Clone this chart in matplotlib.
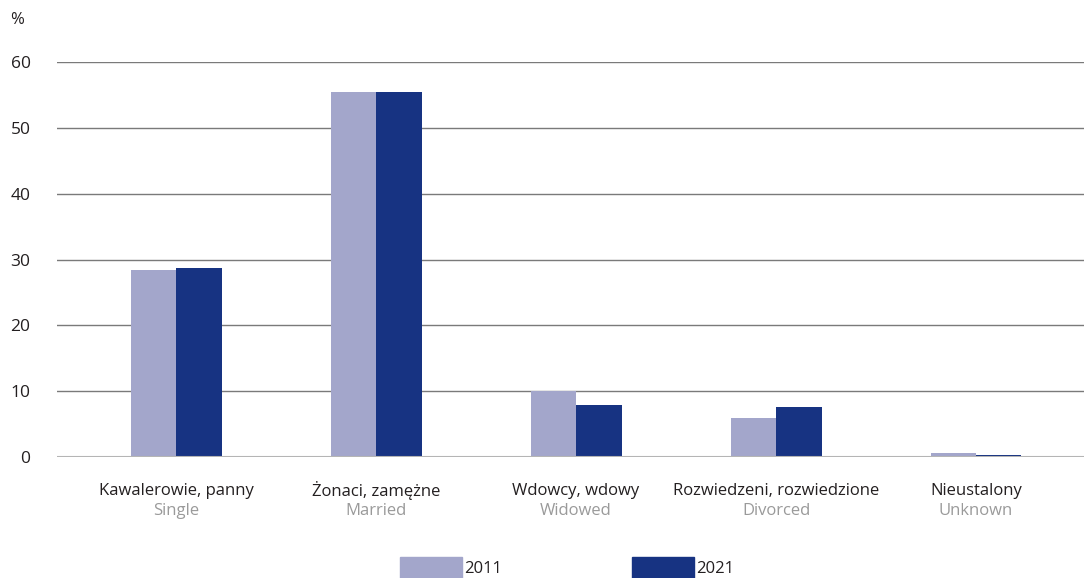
import numpy as np
import matplotlib.pyplot as plt
from matplotlib.patches import Rectangle

plt.rcParams['font.family'] = ['Open Sans', 'DejaVu Sans']

labels_pl = ['Kawalerowie, panny', 'Żonaci, zamężne', 'Wdowcy, wdowy',
             'Rozwiedzeni, rozwiedzione', 'Nieustalony']
labels_en = ['Single', 'Married', 'Widowed', 'Divorced', 'Unknown']
years = ['2011', '2021']
v2011 = [28.4, 55.4, 10.0, 5.9, 0.6]
v2021 = [28.7, 55.4, 7.9, 7.6, 0.3]

c2011 = '#a3a6cb'
c2021 = '#173382'

fig = plt.figure(figsize=(10.84, 5.78), dpi=100)
ax = fig.add_axes([57 / 1084, 1 - 457 / 578, 1 - 57 / 1084, (457 - 62) / 578])

x = np.arange(len(labels_pl))
w = 0.2275
ax.bar(x - w / 2, v2011, w, color=c2011, zorder=3)
ax.bar(x + w / 2, v2021, w, color=c2021, zorder=3)

ax.set_xlim(-0.595, 4.54)
ax.set_ylim(0, 60)
ax.set_yticks(np.arange(0, 61, 10))
for yv in range(10, 61, 10):
    ax.axhline(yv, color='#7a7a7a', lw=1, zorder=1)
ax.axhline(0, color='#b5b5b5', lw=1.5, zorder=4)

for s in ax.spines.values():
    s.set_visible(False)
ax.tick_params(axis='y', length=0, pad=19, labelsize=12.5, labelcolor='#231f20')
ax.tick_params(axis='x', length=0, labelbottom=False)

for i in range(len(labels_pl)):
    ax.text(x[i], -5.1, labels_pl[i], ha='center', va='center', fontsize=12, color='#231f20')
    ax.text(x[i], -8.2, labels_en[i], ha='center', va='center', fontsize=12, color='#9a9a9a')

fig.text(10 / 1084, 1 - 20 / 578, '%', ha='left', va='center', fontsize=12, color='#231f20')

# legend
for px, col, yr in [(400, c2011, years[0]), (632, c2021, years[1])]:
    fig.patches.append(Rectangle((px / 1084, 0), 62 / 1084, 21 / 578,
                                 transform=fig.transFigure, color=col))
    fig.text((px + 64) / 1084, 1 - 569 / 578, yr, ha='left', va='center',
             fontsize=12, color='#231f20')

plt.savefig('out.png', dpi=100)
